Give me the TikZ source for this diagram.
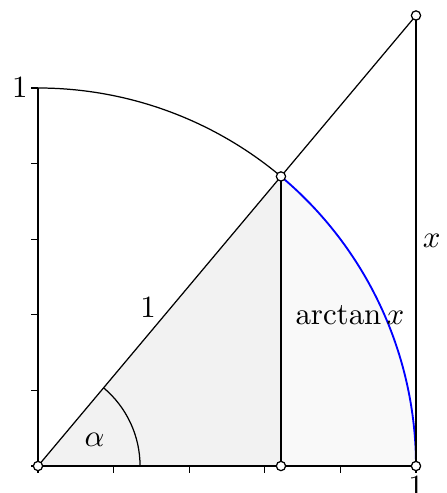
\documentclass[tikz,border=0pt]{standalone}
\usepackage{amsmath}
\begin{document}
\begin{tikzpicture} [
        x=4.3cm, y=4.3cm,
        dot/.style={circle,draw,fill=white,inner sep=0pt,minimum size=3pt},
        axis/.style={semithick},
        tickmark/.style={thin}
    ]

        % Winkel alpha = 50 Grad, Einheit = 4.3cm

    \useasboundingbox (-0.1005,-0.0714) rectangle (1.0794,1.2328);

    \coordinate (O) at (0,0);
    \coordinate (A) at ({cos(50)},0);
    \coordinate (B) at (1,0);
    \coordinate (P) at (50:1);
    \coordinate (T) at (1,{tan(50)});
    \coordinate (E) at (0,1);

    \fill[gray!10] (O) -- (A) -- (P) -- cycle;
    \fill[gray!5] (A) -- (P) arc (50:0:1) -- cycle;

    \draw[axis] (E) -- (O) -- (B);
    \foreach \i in {0,...,5} {
        \draw[tickmark] (\i/5,0) -- (\i/5,-0.018);
        \draw[tickmark] (0,\i/5) -- (-0.018,\i/5);
    }
    \node[left,inner sep=1pt] (n1y) at (-0.018,1) {$1$};
    \node[below,inner sep=1pt] (n1x) at (1,-0.018) {$1$};

    \draw (E) arc (90:50:1);
    \draw[blue,semithick] (P) arc (50:0:1);
    \draw (0.27,0) arc (0:50:0.27);
    \node (nalpha) at (25:0.165) {$\alpha$};

    \draw (O) -- node[above left,inner sep=1pt] (nr) {$1$} (P);
    \draw (P) -- (T);
    \draw (P) -- (A);
    \draw (B) -- node[right,inner sep=2pt] (nx) {$x$} (T);
    \node (narc) at (0.825,0.4) {$\arctan x$};

    \node[dot] (dO) at (O) {};
    \node[dot] (dA) at (A) {};
    \node[dot] (dB) at (B) {};
    \node[dot] (dP) at (P) {};
    \node[dot] (dT) at (T) {};

    \end{tikzpicture}
\end{document}
